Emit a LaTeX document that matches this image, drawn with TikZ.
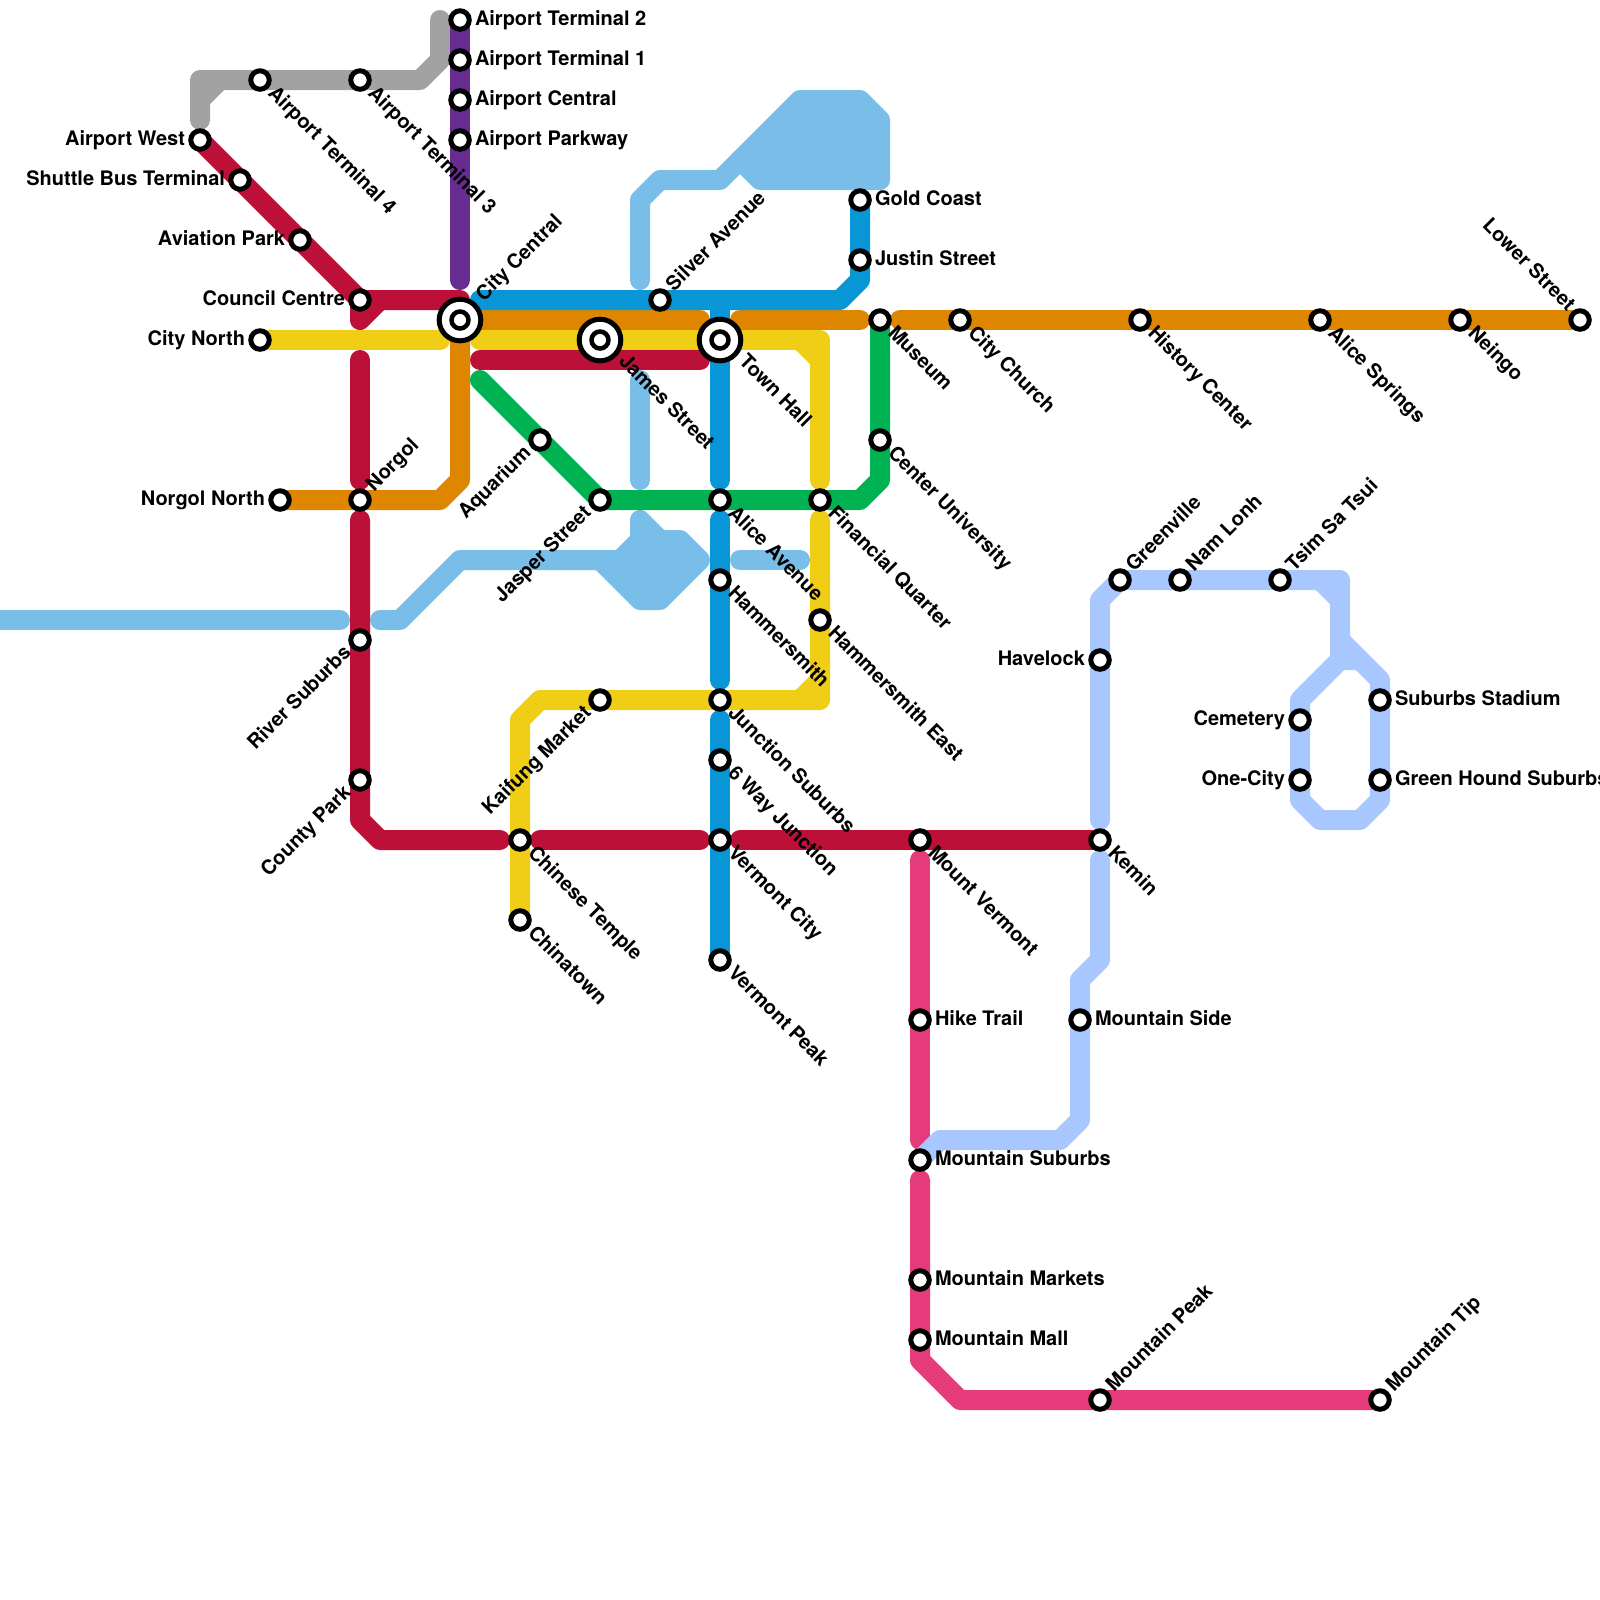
\documentclass[tikz,border=0pt]{standalone}
\usepackage{fontspec}
\setmainfont{TeX Gyre Heros}
\usetikzlibrary{backgrounds}
\definecolor{lnred}{HTML}{BD1038}
\definecolor{lnyellow}{HTML}{F0CE15}
\definecolor{lnorange}{HTML}{DF8600}
\definecolor{lnblue}{HTML}{0896D7}
\definecolor{lngreen}{HTML}{00B251}
\definecolor{lnpurple}{HTML}{662C90}
\definecolor{lnpink}{HTML}{E63B7A}
\definecolor{lngrey}{HTML}{A2A2A2}
\definecolor{lnsky}{HTML}{79BDE9}
\definecolor{lnpale}{HTML}{A9C7FF}
\tikzset{
  metro/.style={line width=.2cm,line cap=round,line join=round},
  stn/.style={circle,draw=black,fill=white,line width=.05cm,inner sep=0pt,minimum size=.185cm},
  stnin/.style={stn,line width=.045cm,minimum size=.17cm},
  stnbig/.style={stn,minimum size=.416cm},
  lbl/.style={font=\fontsize{5.69}{6}\selectfont\bfseries,inner sep=0pt,outer sep=0pt},
  lblR/.style={lbl,anchor=base west,xshift=.15cm,yshift=-.05cm},
  lblL/.style={lbl,anchor=base east,xshift=-.15cm,yshift=-.05cm},
  lblSE/.style={lbl,anchor=base west,xshift=.07cm,yshift=-.14cm,rotate=-45},
  lblNE/.style={lbl,anchor=base west,xshift=.14cm,yshift=.08cm,rotate=45},
  lblSW/.style={lbl,anchor=base east,xshift=-.08cm,yshift=-.14cm,rotate=45},
  lblNW/.style={lbl,anchor=base east,xshift=-.13cm,yshift=.08cm,rotate=-45},
  lblSEbig/.style={lbl,anchor=base west,xshift=.18cm,yshift=-.225cm,rotate=-45},
  lblNEbig/.style={lbl,anchor=base west,xshift=.24cm,yshift=.18cm,rotate=45}}
\begin{document}
\begin{tikzpicture}[x=.2cm,y=-.2cm]
\useasboundingbox (0,0) rectangle (80,80);
% interchanges
\foreach \x/\y/\nm/\txt/\side in {23/16/ccentral/City Central/lblNEbig,30/17/james/James Street/lblSEbig,36/17/townhall/Town Hall/lblSEbig}{
\node[stnbig] (\nm) at (\x,\y) {};
\node[stnin] (\nm-in) at (\x,\y) {};
\node[\side] (\nm-l) at (\x,\y) {\txt};}
% stations
\foreach \x/\y/\nm/\txt/\side in {
23/1/aterm2/Airport Terminal 2/lblR,23/3/aterm1/Airport Terminal 1/lblR,23/5/acentral/Airport Central/lblR,
23/7/aparkway/Airport Parkway/lblR,43/10/gold/Gold Coast/lblR,43/13/justin/Justin Street/lblR,
46/51/hike/Hike Trail/lblR,54/51/mside/Mountain Side/lblR,46/58/msuburbs/Mountain Suburbs/lblR,
46/64/mmarkets/Mountain Markets/lblR,46/67/mmall/Mountain Mall/lblR,69/35/stadium/Suburbs Stadium/lblR,
69/39/ghound/Green Hound Suburbs/lblR,
10/7/awest/Airport West/lblL,12/9/shuttle/Shuttle Bus Terminal/lblL,15/12/aviation/Aviation Park/lblL,
18/15/council/Council Centre/lblL,13/17/cnorth/City North/lblL,14/25/nnorth/Norgol North/lblL,
55/33/havelock/Havelock/lblL,65/36/cemetery/Cemetery/lblL,65/39/onecity/One-City/lblL,
13/4/aterm4/Airport Terminal 4/lblSE,18/4/aterm3/Airport Terminal 3/lblSE,44/16/museum/Museum/lblSE,
48/16/cchurch/City Church/lblSE,57/16/history/History Center/lblSE,66/16/asprings/Alice Springs/lblSE,
73/16/neingo/Neingo/lblSE,44/22/cuni/Center University/lblSE,41/25/finq/Financial Quarter/lblSE,
36/25/alice/Alice Avenue/lblSE,36/29/hammer/Hammersmith/lblSE,41/31/hammere/Hammersmith East/lblSE,
36/35/jsuburbs/Junction Suburbs/lblSE,36/38/sixway/6 Way Junction/lblSE,36/42/vcity/Vermont City/lblSE,
36/48/vpeak/Vermont Peak/lblSE,26/42/temple/Chinese Temple/lblSE,26/46/chinatown/Chinatown/lblSE,
46/42/mvermont/Mount Vermont/lblSE,55/42/kemin/Kemin/lblSE,
33/15/silver/Silver Avenue/lblNE,18/25/norgol/Norgol/lblNE,56/29/green/Greenville/lblNE,
59/29/namlonh/Nam Lonh/lblNE,64/29/tsim/Tsim Sa Tsui/lblNE,55/70/mpeak/Mountain Peak/lblNE,69/70/mtip/Mountain Tip/lblNE,
27/22/aquarium/Aquarium/lblSW,30/25/jasper/Jasper Street/lblSW,18/32/river/River Suburbs/lblSW,
18/39/county/County Park/lblSW,30/35/kaifung/Kaifung Market/lblSW,
79/16/lower/Lower Street/lblNW}{
\node[stn] (\nm) at (\x,\y) {};
\node[\side] (\nm-l) at (\x,\y) {\txt};}
\begin{scope}[on background layer]
% sky line
\draw[metro,lnsky] (-1,31)--(17,31);
\draw[metro,lnsky] (19,31)--(20,31)--(23,28)--(30,28);
\draw[metro,lnsky,fill=lnsky] (30,28)--(32,30)--(33,30)--(35,28)--(34,27)--(33,27)--(32,26)--(32,27)--(31,28)--cycle;
\draw[metro,lnsky] (37,28)--(40,28);
\draw[metro,lnsky] (32,19)--(32,24);
\draw[metro,lnsky] (32,14)--(32,10)--(33,9)--(36,9)--(37,8);
\draw[metro,lnsky,fill=lnsky] (37,8)--(40,5)--(43,5)--(44,6)--(44,9)--(38,9)--cycle;
% grey and purple
\draw[metro,lngrey] (22,1)--(22,3)--(21,4)--(aterm3.center)--(aterm4.center)--(10,4)--(10,6);
\draw[metro,lngrey] (10,5)--(11,4);
\draw[metro,lnpurple] (aterm2.center)--(23,14);
% red
\draw[metro,lnred] (awest.center)--(council.center)--(23,15);
\draw[metro,lnred] (council.center)--(18,16)--(19,15);
\draw[metro,lnred] (18,18)--(18,24);
\draw[metro,lnred] (18,26)--(18,41)--(19,42)--(25,42);
\draw[metro,lnred] (27,42)--(35,42);
\draw[metro,lnred] (37,42)--(kemin.center);
\draw[metro,lnred] (24,18)--(35,18);
% yellow
\draw[metro,lnyellow] (cnorth.center)--(22,17);
\draw[metro,lnyellow] (24,17)--(41,17)--(41,24);
\draw[metro,lnyellow] (40,17)--(41,18);
\draw[metro,lnyellow] (41,26)--(41,35)--(27,35)--(26,36)--(chinatown.center);
\draw[metro,lnyellow] (40,35)--(41,34);
% orange
\draw[metro,lnorange] (ccentral.center)--(35,16);
\draw[metro,lnorange] (37,16)--(43,16);
\draw[metro,lnorange] (45,16)--(lower.center);
\draw[metro,lnorange] (ccentral.center)--(23,24)--(22,25)--(nnorth.center);
% blue
\draw[metro,lnblue] (24,15)--(42,15)--(43,14)--(gold.center);
\draw[metro,lnblue] (36,15)--(36,24);
\draw[metro,lnblue] (36,26)--(36,34);
\draw[metro,lnblue] (36,36)--(vpeak.center);
% green
\draw[metro,lngreen] (24,19)--(jasper.center)--(43,25)--(44,24)--(museum.center);
% pink
\draw[metro,lnpink] (46,43)--(46,57);
\draw[metro,lnpink] (46,59)--(46,68)--(48,70)--(mtip.center);
% pale
\draw[metro,lnpale] (55,41)--(55,30)--(green.center)--(67,29)--(67,33);
\draw[metro,lnpale] (67,32)--(69,34)--(ghound.center)--(69,40)--(68,41)--(66,41)--(65,40)--(65,35)--(67,33)--(68,33)--(69,34);
\draw[metro,lnpale] (66,29)--(67,30);
\draw[metro,lnpale] (55,43)--(55,48)--(54,49)--(54,56)--(53,57)--(47,57)--(msuburbs.center);
\end{scope}
\end{tikzpicture}
\end{document}
